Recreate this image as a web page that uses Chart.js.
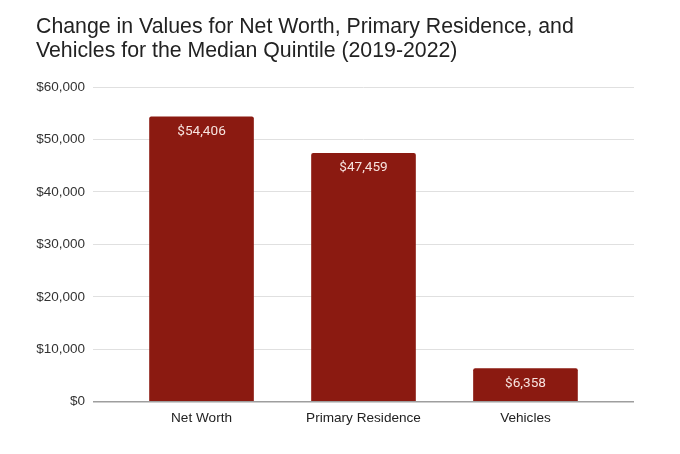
<!DOCTYPE html>
<html>
<head>
<meta charset="utf-8">
<script src="https://cdn.jsdelivr.net/npm/chart.js@4.4.0/dist/chart.umd.min.js"></script>
<style>
  html, body { margin: 0; padding: 0; background: #ffffff; }
  #wrap { width: 680px; height: 454px; }
</style>
</head>
<body>
<div id="wrap"><canvas id="c" width="680" height="454"></canvas></div>
<script>
const titleLines = [
  "Change in Values for Net Worth, Primary Residence, and",
  "Vehicles for the Median Quintile (2019-2022)"
];
const categories = ["Net Worth", "Primary Residence", "Vehicles"];
const values = [54406, 47459, 6358];
const yTicks = [0, 10000, 20000, 30000, 40000, 50000, 60000];

const fmt = v => "$" + v.toLocaleString("en-US");

const barLabels = {
  id: "barLabels",
  afterDatasetsDraw(chart) {
    const ctx = chart.ctx;
    const meta = chart.getDatasetMeta(0);
    ctx.save();
    ctx.font = "13.6px Roboto, 'Liberation Sans', Arial, sans-serif";
    ctx.fillStyle = "#f7e3df";
    ctx.textAlign = "center";
    ctx.textBaseline = "middle";
    meta.data.forEach((el, i) => {
      ctx.fillText(fmt(values[i]), el.x, el.y + 15);
    });
    ctx.restore();
  }
};

new Chart(document.getElementById("c"), {
  type: "bar",
  data: {
    datasets: [{
      data: values.map((v, i) => ({ x: i + 1, y: v })),
      backgroundColor: "#8b1a11",
      borderRadius: { topLeft: 2, topRight: 2, bottomLeft: 0, bottomRight: 0 },
      borderSkipped: "start",
      barPercentage: 0.646,
      categoryPercentage: 1
    }]
  },
  options: {
    responsive: false,
    animation: false,
    devicePixelRatio: 1,
    layout: { padding: { left: 36, right: 46, top: 0, bottom: 20 } },
    plugins: {
      legend: { display: false },
      tooltip: { enabled: false },
      title: {
        display: true,
        text: titleLines,
        align: "start",
        color: "#222222",
        font: { family: "'Liberation Sans', Arial, sans-serif", size: 21.3, weight: "normal", lineHeight: 1.13 },
        padding: { top: 15, bottom: 24 }
      }
    },
    scales: {
      x: {
        type: "linear",
        offset: false,
        min: 0.33,
        max: 3.67,
        afterBuildTicks: (scale) => { scale.ticks = categories.map((c, i) => ({ value: i + 1 })); },
        grid: { display: false, drawTicks: false, offset: false },
        border: { display: false },
        ticks: {
          autoSkip: false,
          maxRotation: 0,
          padding: 8,
          color: "#222222",
          font: { family: "'Liberation Sans', Arial, sans-serif", size: 13.6 },
          callback: (v) => categories[Math.round(v) - 1] || ""
        }
      },
      y: {
        min: 0,
        max: 60000,
        afterBuildTicks: (scale) => { scale.ticks = yTicks.map(v => ({ value: v })); },
        afterFit: (scale) => { scale.width = 57; },
        grid: {
          drawTicks: false,
          color: (c) => c.tick && c.tick.value === 0 ? "#9e9e9e" : "#e0e0e0",
          lineWidth: (c) => c.tick && c.tick.value === 0 ? 1.6 : 1
        },
        border: { display: false },
        ticks: {
          padding: 8,
          color: "#333333",
          font: { family: "'Liberation Sans', Arial, sans-serif", size: 13.5 },
          callback: (v) => fmt(v)
        }
      }
    }
  },
  plugins: [barLabels]
});
</script>
</body>
</html>
